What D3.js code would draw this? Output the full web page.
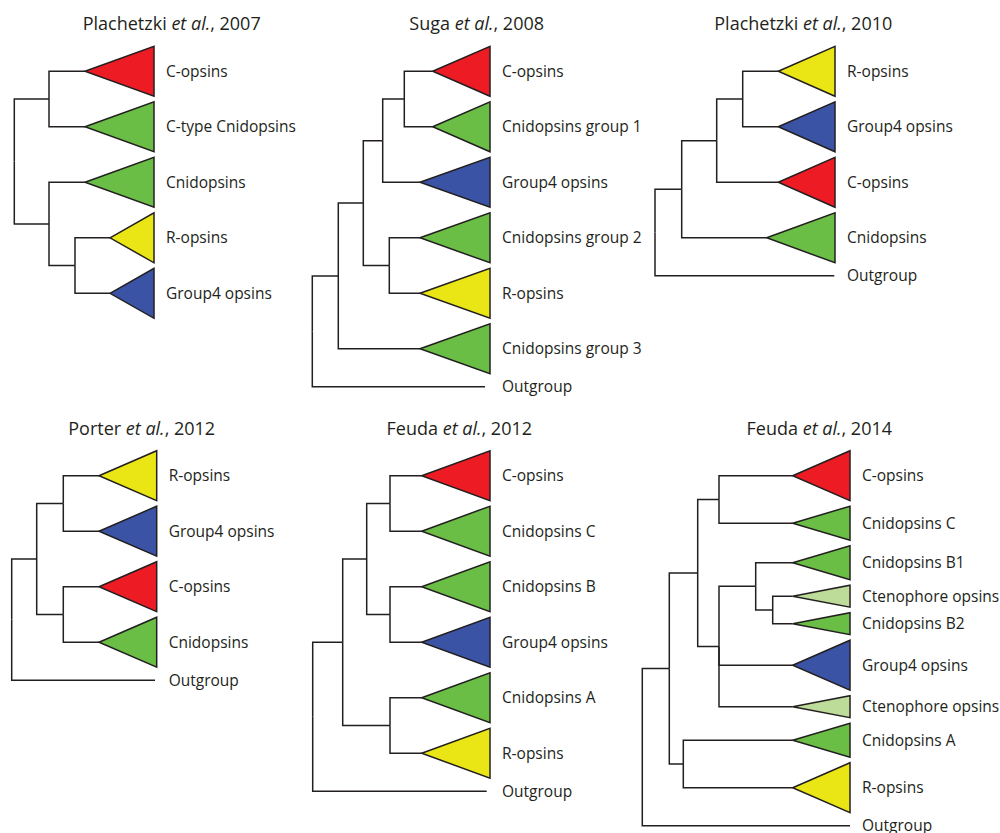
<!DOCTYPE html>
<html>
<head>
<meta charset="utf-8">
<script src="https://cdn.jsdelivr.net/npm/d3@7"></script>
<style>
  body { margin: 0; background: #fff; }
  svg { display: block; }
  text { font-family: "Open Sans", sans-serif; fill: #231f20; }
</style>
</head>
<body>
<svg id="fig" width="1000" height="833"></svg>
<script>
// ---- data -------------------------------------------------------------
// opsin group colours
const groupColours = {
  copsin: "#ED1C24",
  cnid:   "#6ABD45",
  ropsin: "#EAE616",
  group4: "#3A53A4",
  cteno:  "#BDDC9A"
};

const authors = ["Plachetzki", "Suga", "Plachetzki", "Porter", "Feuda", "Feuda"];
const years   = ["2007", "2008", "2010", "2012", "2012", "2014"];

// depth of the collapsed-clade crowns (right edge of the triangles), branch units
const crownDepths = [139.7, 177.7, 180, 145, 177.3, 207.7];

// tree builders: leaf(label, group, branch length, clade weight), node(branch length, ...children)
const leaf = (name, group, len, w = 1) => ({ name, group, len, w });
const node = (len, ...children) => ({ len, children });

const tree2007 = node(0,
  node(34.7, leaf("C-opsins", "copsin", 36), leaf("C-type Cnidopsins", "cnid", 36)),
  node(34.7, leaf("Cnidopsins", "cnid", 36),
    node(26, leaf("R-opsins", "ropsin", 35), leaf("Group4 opsins", "group4", 35)))
);

const tree2008 = node(0,
  node(26,
    node(25,
      node(19.4,
        node(21.6, leaf("C-opsins", "copsin", 28.4), leaf("Cnidopsins group 1", "cnid", 28.4)),
        leaf("Group4 opsins", "group4", 37.3)),
      node(26, leaf("Cnidopsins group 2", "cnid", 30.7), leaf("R-opsins", "ropsin", 30.7))),
    leaf("Cnidopsins group 3", "cnid", 81.7)),
  leaf("Outgroup", "out", 172.7, 0.3)
);

const tree2010 = node(0,
  node(26.7,
    node(35,
      node(26, leaf("R-opsins", "ropsin", 35.6), leaf("Group4 opsins", "group4", 35.6)),
      leaf("C-opsins", "copsin", 61.6)),
    leaf("Cnidopsins", "cnid", 85)),
  leaf("Outgroup", "out", 179.3, 0.3)
);

const tree2012a = node(0,
  node(25,
    node(26.6, leaf("R-opsins", "ropsin", 35.7), leaf("Group4 opsins", "group4", 35.7)),
    node(26.6, leaf("C-opsins", "copsin", 35.7), leaf("Cnidopsins", "cnid", 35.7))),
  leaf("Outgroup", "out", 143.3, 0.3)
);

const tree2012b = node(0,
  node(30,
    node(24,
      node(23.3, leaf("C-opsins", "copsin", 31.7), leaf("Cnidopsins C", "cnid", 31.7)),
      node(23.3, leaf("Cnidopsins B", "cnid", 31.7), leaf("Group4 opsins", "group4", 31.7))),
    node(47.3, leaf("Cnidopsins A", "cnid", 31.7), leaf("R-opsins", "ropsin", 31.7))),
  leaf("Outgroup", "out", 174, 0.3)
);

const tree2014 = node(0,
  node(27,
    node(28.4,
      node(21.3, leaf("C-opsins", "copsin", 73.7), leaf("Cnidopsins C", "cnid", 73.7, 0.68)),
      node(21.3,
        node(36.7,
          leaf("Cnidopsins B1", "cnid", 37, 0.68),
          node(17, leaf("Ctenophore opsins", "cteno", 20, 0.44), leaf("Cnidopsins B2", "cnid", 20, 0.44))),
        leaf("Group4 opsins", "group4", 73.7),
        leaf("Ctenophore opsins", "cteno", 73.7, 0.44))),
    node(14, leaf("Cnidopsins A", "cnid", 109.4, 0.68), leaf("R-opsins", "ropsin", 109.4))),
  leaf("Outgroup", "out", 207.7, 0.3)
);

const trees = [tree2007, tree2008, tree2010, tree2012a, tree2012b, tree2014];

// ---- layout -----------------------------------------------------------
const panels = [
  { x: 14.3,  y: 46.3,  tx: 171.7, ty: 30 },
  { x: 312.3, y: 46.3,  tx: 476.7, ty: 30 },
  { x: 655,   y: 46.3,  tx: 803.3, ty: 30 },
  { x: 11.7,  y: 450.7, tx: 141.7, ty: 435 },
  { x: 312.7, y: 450.7, tx: 459.3, ty: 435 },
  { x: 642.3, y: 450.7, tx: 819.3, ty: 435 }
];

const cladeHeight = d3.scaleLinear().domain([0, 1]).range([0, 50]);
const gap = 5.5;
const ink = "#231f20";

const svg = d3.select("#fig");

trees.forEach((data, i) => {
  const p = panels[i];
  const crown = crownDepths[i];
  const root = d3.hierarchy(data);

  // cumulative branch depth
  root.eachBefore(n => { n.depth0 = n.parent ? n.parent.depth0 + n.data.len : 0; });

  // vertical stacking of the leaves, in branch units
  let cursor = 0;
  root.leaves().forEach(l => {
    const h = cladeHeight(l.data.w);
    l.h = h;
    l.pos = cursor + h / 2;
    cursor += h + gap;
  });
  root.eachAfter(n => {
    if (n.children) n.pos = (n.children[0].pos + n.children[n.children.length - 1].pos) / 2;
  });

  const x = d3.scaleLinear().domain([0, crown]).range([p.x, p.x + crown]);
  const y = d3.scaleLinear().domain([0, 1]).range([p.y, p.y + 1]);

  const g = svg.append("g");

  // title
  const t = g.append("text")
    .attr("x", p.tx).attr("y", p.ty)
    .attr("text-anchor", "middle")
    .style("font-size", "18px");
  t.append("tspan").text(authors[i] + " ");
  t.append("tspan").style("font-style", "italic").text("et al.");
  t.append("tspan").text(", " + years[i]);

  // branches (elbow links)
  g.append("g").selectAll("path")
    .data(root.descendants().filter(n => n.parent))
    .join("path")
    .attr("d", n => `M${x(n.parent.depth0)},${y(n.parent.pos)}V${y(n.pos)}H${x(n.depth0)}`)
    .attr("fill", "none")
    .attr("stroke", ink)
    .attr("stroke-width", 1.5);

  // collapsed clades
  const clades = root.leaves().filter(l => l.data.group !== "out");
  g.append("g").selectAll("polygon")
    .data(clades)
    .join("polygon")
    .attr("points", l => [
      [x(l.depth0), y(l.pos)],
      [x(crown), y(l.pos - l.h / 2)],
      [x(crown), y(l.pos + l.h / 2)]
    ].map(pt => pt.join(",")).join(" "))
    .attr("fill", l => groupColours[l.data.group])
    .attr("stroke", ink)
    .attr("stroke-width", 1.5)
    .attr("stroke-linejoin", "miter");

  // labels
  g.append("g").selectAll("text")
    .data(root.leaves())
    .join("text")
    .attr("x", x(crown) + 12)
    .attr("y", l => y(l.pos))
    .attr("dy", "0.35em")
    .style("font-size", "15.5px")
    .text(l => l.data.name);
});
</script>
</body>
</html>
